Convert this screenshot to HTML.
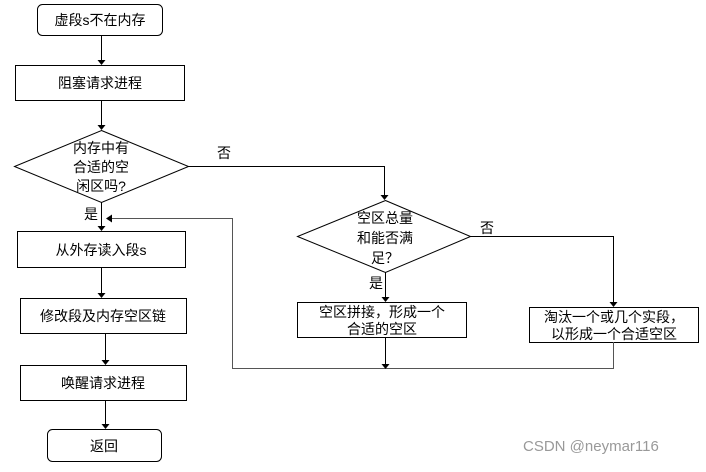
<!DOCTYPE html>
<html><head><meta charset="utf-8"><style>
html,body{margin:0;padding:0;background:#fff;}
text{font-family:"Liberation Sans","Noto Sans CJK SC",sans-serif;font-size:14px;fill:#000;}
</style></head><body>
<svg width="706" height="467" viewBox="0 0 706 467" xmlns="http://www.w3.org/2000/svg">
<defs><marker id="a" markerWidth="8" markerHeight="8" refX="4" refY="7" orient="auto" markerUnits="userSpaceOnUse"><path d="M0,1 L8,1 L4,8 Z" fill="#000" transform="rotate(-90 4 4) rotate(90 4 4)"/></marker></defs>
<g fill="none" stroke="#000" stroke-width="1">
<rect x="37.5" y="4.5" width="125" height="31" rx="5"/>
<rect x="15.5" y="65.5" width="169" height="35"/>
<polygon points="101.5,130.5 188.5,166.5 101.5,202.5 14.5,166.5"/>
<rect x="17.5" y="231.5" width="168" height="36"/>
<rect x="20.5" y="298.5" width="166" height="35"/>
<rect x="20.5" y="365.5" width="166" height="35"/>
<rect x="47.5" y="429.5" width="114" height="32" rx="5"/>
<polygon points="385.5,200.5 470.5,236.5 385.5,272.5 297.5,236.5"/>
<rect x="297.5" y="302.5" width="169" height="35"/>
<rect x="529.5" y="307.5" width="169" height="35"/>
<path d="M101.5 35 V60 M101.5 100 V125 M101.5 202 V226 M101.5 267 V293 M105.5 333 V360 M105.5 400 V424"/>
<path d="M188 166.5 H384.5 V195"/>
<path d="M385.5 272 V297"/>
<path d="M470 236.5 H613.5 V302"/>
<path d="M385.5 337 V364"/>
<path d="M613.5 342 V368.5 H232.5 V218.5 H112" stroke="#555"/>
</g>
<g fill="#000">
<path d="M97.5,60 L105.5,60 L101.5,65 Z"/>
<path d="M97.5,125 L105.5,125 L101.5,130 Z"/>
<path d="M97.5,226 L105.5,226 L101.5,231 Z"/>
<path d="M97.5,293 L105.5,293 L101.5,298 Z"/>
<path d="M101.5,360 L109.5,360 L105.5,365 Z"/>
<path d="M101.5,424 L109.5,424 L105.5,429 Z"/>
<path d="M380.5,195 L388.5,195 L384.5,200 Z"/>
<path d="M381.5,297 L389.5,297 L385.5,302 Z"/>
<path d="M609.5,302 L617.5,302 L613.5,307 Z"/>
<path d="M381.5,364 L389.5,364 L385.5,369 Z"/>
<path d="M112,214.5 L112,222.5 L106,218.5 Z"/>
</g>
<text x="100" y="25" text-anchor="middle">虚段s不在内存</text>
<text x="100" y="88" text-anchor="middle">阻塞请求进程</text>
<text x="101" y="153" text-anchor="middle">内存中有</text>
<text x="101" y="172" text-anchor="middle">合适的空</text>
<text x="101" y="191" text-anchor="middle">闲区吗?</text>
<text x="217" y="158">否</text>
<text x="84" y="219">是</text>
<text x="101" y="255" text-anchor="middle">从外存读入段s</text>
<text x="103" y="321" text-anchor="middle">修改段及内存空区链</text>
<text x="103" y="388" text-anchor="middle">唤醒请求进程</text>
<text x="104" y="451" text-anchor="middle">返回</text>
<text x="385" y="223" text-anchor="middle">空区总量</text>
<text x="385" y="243" text-anchor="middle">和能否满</text>
<text x="385" y="263" text-anchor="middle">足？</text>
<text x="480" y="233">否</text>
<text x="369" y="288">是</text>
<text x="382" y="317" text-anchor="middle">空区拼接，形成一个</text>
<text x="382" y="334" text-anchor="middle">合适的空区</text>
<text x="614" y="322" text-anchor="middle">淘汰一个或几个实段，</text>
<text x="614" y="339" text-anchor="middle">以形成一个合适空区</text>
<text x="523" y="451" style="fill:#999;font-size:15px">CSDN @neymar116</text>
</g>
</svg>
</body></html>
